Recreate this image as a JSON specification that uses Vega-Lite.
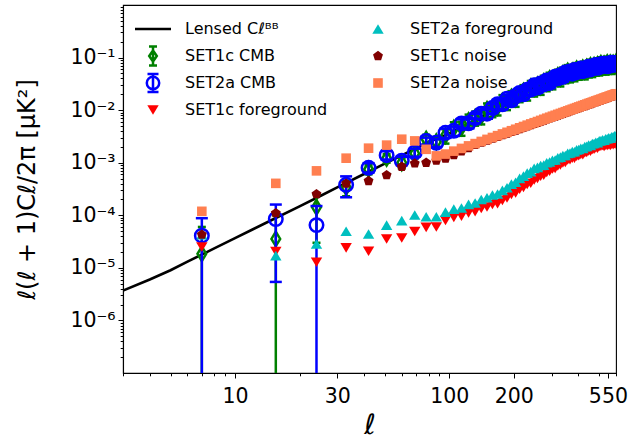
{
"$schema": "https://vega.github.io/schema/vega-lite/v6.json",
"width": 493, "height": 368,
"autosize": "none",
"padding": {"left": 123, "top": 5, "right": 20, "bottom": 66},
"background": "white",
"config": {
  "view": {"stroke": "black", "strokeWidth": 1.1},
  "font": "DejaVu Sans",
  "axis": {"grid": false, "domainColor": "black", "domainWidth": 1.1, "tickColor": "black", "tickWidth": 1, "labelColor": "black", "titleColor": "black", "labelFont": "DejaVu Sans", "titleFont": "DejaVu Sans", "titleFontWeight": "normal", "zindex": 1}
},
"data": {"values": [
{"s":"L","l":3,"v":3.7e-6},{"s":"L","l":4,"v":6.0e-6},{"s":"L","l":5,"v":9.0e-6},{"s":"L","l":6,"v":1.31e-5},{"s":"L","l":7,"v":1.79e-5},{"s":"L","l":8,"v":2.34e-5},{"s":"L","l":10,"v":3.68e-5},{"s":"L","l":12,"v":5.3e-5},{"s":"L","l":15,"v":8.3e-5},{"s":"L","l":20,"v":1.48e-4},{"s":"L","l":25,"v":2.33e-4},{"s":"L","l":30,"v":3.4e-4},{"s":"L","l":40,"v":6.1e-4},{"s":"L","l":50,"v":9.6e-4},{"s":"L","l":60,"v":1.38e-3},{"s":"L","l":70,"v":1.9e-3},{"s":"L","l":80,"v":2.45e-3},{"s":"L","l":90,"v":3.0e-3},{"s":"L","l":100,"v":3.6e-3},{"s":"L","l":120,"v":5.3e-3},{"s":"L","l":150,"v":8.5e-3},{"s":"L","l":177,"v":1.3e-2},{"s":"L","l":200,"v":1.7e-2},{"s":"L","l":250,"v":2.7e-2},{"s":"L","l":300,"v":3.7e-2},{"s":"L","l":357,"v":4.9e-2},{"s":"L","l":420,"v":5.9e-2},{"s":"L","l":510,"v":7.0e-2},{"s":"L","l":600,"v":7.6e-2},
{"s":"c1","l":7,"v":1.85e-5,"lo":1e-9,"hi":6e-5},{"s":"c1","l":15.5,"v":3.55e-5,"lo":1e-9,"hi":1.0e-4},{"s":"c1","l":24,"v":1.42e-4,"lo":3e-5,"hi":2.5e-4},{"s":"c1","l":33,"v":3.4e-4,"lo":2.3e-4,"hi":4.5e-4},{"s":"c1","l":42,"v":7.5e-4,"lo":6.0e-4,"hi":9.0e-4},{"s":"c1","l":51,"v":1.21e-3,"lo":1.0e-3,"hi":1.45e-3},{"s":"c1","l":60,"v":1.0e-3,"lo":7.8e-4,"hi":1.25e-3},{"s":"c1","l":69,"v":1.5e-3,"lo":1.2e-3,"hi":1.8e-3},{"s":"c1","l":78,"v":2.8e-3,"lo":2.3e-3,"hi":3.4e-3},{"s":"c1","l":87,"v":2.5e-3,"lo":2.0e-3,"hi":3.1e-3},
{"s":"c1","l":96,"v":3.30e-3,"lo":2.31e-3,"hi":4.29e-3},{"s":"c1","l":105,"v":4.53e-3,"lo":3.17e-3,"hi":5.89e-3},{"s":"c1","l":114,"v":4.64e-3,"lo":3.25e-3,"hi":6.03e-3},{"s":"c1","l":123,"v":6.32e-3,"lo":4.42e-3,"hi":8.22e-3},{"s":"c1","l":132,"v":7.23e-3,"lo":5.06e-3,"hi":9.40e-3},{"s":"c1","l":141,"v":7.64e-3,"lo":5.35e-3,"hi":9.93e-3},{"s":"c1","l":150,"v":1.031e-2,"lo":7.22e-3,"hi":1.34e-2},{"s":"c1","l":159,"v":1.047e-2,"lo":7.33e-3,"hi":1.361e-2},{"s":"c1","l":168,"v":1.131e-2,"lo":7.92e-3,"hi":1.47e-2},{"s":"c1","l":177,"v":1.487e-2,"lo":1.041e-2,"hi":1.933e-2},{"s":"c1","l":186,"v":1.432e-2,"lo":1.002e-2,"hi":1.862e-2},{"s":"c1","l":195,"v":1.768e-2,"lo":1.238e-2,"hi":2.298e-2},{"s":"c1","l":204,"v":1.650e-2,"lo":1.155e-2,"hi":2.145e-2},{"s":"c1","l":213,"v":2.022e-2,"lo":1.415e-2,"hi":2.629e-2},{"s":"c1","l":222,"v":2.303e-2,"lo":1.612e-2,"hi":2.994e-2},{"s":"c1","l":231,"v":2.174e-2,"lo":1.522e-2,"hi":2.826e-2},{"s":"c1","l":240,"v":2.76e-2,"lo":1.932e-2,"hi":3.588e-2},{"s":"c1","l":249,"v":2.59e-2,"lo":1.813e-2,"hi":3.367e-2},{"s":"c1","l":258,"v":3.02e-2,"lo":2.114e-2,"hi":3.926e-2},{"s":"c1","l":267,"v":2.79e-2,"lo":1.953e-2,"hi":3.627e-2},{"s":"c1","l":276,"v":3.47e-2,"lo":2.429e-2,"hi":4.511e-2},{"s":"c1","l":285,"v":3.27e-2,"lo":2.289e-2,"hi":4.251e-2},{"s":"c1","l":294,"v":3.96e-2,"lo":2.772e-2,"hi":5.148e-2},{"s":"c1","l":303,"v":3.55e-2,"lo":2.485e-2,"hi":4.615e-2},{"s":"c1","l":312,"v":4.10e-2,"lo":2.87e-2,"hi":5.33e-2},{"s":"c1","l":321,"v":4.51e-2,"lo":3.157e-2,"hi":5.863e-2},{"s":"c1","l":330,"v":4.03e-2,"lo":2.821e-2,"hi":5.239e-2},{"s":"c1","l":339,"v":4.96e-2,"lo":3.472e-2,"hi":6.448e-2},{"s":"c1","l":348,"v":4.63e-2,"lo":3.241e-2,"hi":6.019e-2},{"s":"c1","l":357,"v":5.53e-2,"lo":3.871e-2,"hi":7.189e-2},{"s":"c1","l":366,"v":4.82e-2,"lo":3.374e-2,"hi":6.266e-2},{"s":"c1","l":375,"v":5.53e-2,"lo":3.871e-2,"hi":7.189e-2},{"s":"c1","l":384,"v":5.05e-2,"lo":3.535e-2,"hi":6.565e-2},{"s":"c1","l":393,"v":6.06e-2,"lo":4.242e-2,"hi":7.878e-2},{"s":"c1","l":402,"v":5.40e-2,"lo":3.78e-2,"hi":7.02e-2},{"s":"c1","l":411,"v":5.91e-2,"lo":4.137e-2,"hi":7.683e-2},{"s":"c1","l":420,"v":6.32e-2,"lo":4.424e-2,"hi":8.216e-2},{"s":"c1","l":429,"v":5.49e-2,"lo":3.843e-2,"hi":7.137e-2},{"s":"c1","l":438,"v":6.58e-2,"lo":4.606e-2,"hi":8.554e-2},{"s":"c1","l":447,"v":5.98e-2,"lo":4.186e-2,"hi":7.774e-2},{"s":"c1","l":456,"v":7.00e-2,"lo":4.9e-2,"hi":9.1e-2},{"s":"c1","l":465,"v":6.07e-2,"lo":4.249e-2,"hi":7.891e-2},{"s":"c1","l":474,"v":7.10e-2,"lo":4.97e-2,"hi":9.23e-2},{"s":"c1","l":483,"v":6.44e-2,"lo":4.508e-2,"hi":8.372e-2},{"s":"c1","l":492,"v":7.36e-2,"lo":5.152e-2,"hi":9.568e-2},{"s":"c1","l":501,"v":6.52e-2,"lo":4.564e-2,"hi":8.476e-2},{"s":"c1","l":510,"v":7.78e-2,"lo":5.446e-2,"hi":1.011e-1},{"s":"c1","l":519,"v":6.82e-2,"lo":4.774e-2,"hi":8.866e-2},{"s":"c1","l":528,"v":7.53e-2,"lo":5.271e-2,"hi":9.789e-2},{"s":"c1","l":537,"v":6.76e-2,"lo":4.732e-2,"hi":8.788e-2},{"s":"c1","l":546,"v":8.00e-2,"lo":5.6e-2,"hi":1.04e-1},{"s":"c1","l":555,"v":7.01e-2,"lo":4.907e-2,"hi":9.113e-2},{"s":"c1","l":564,"v":7.92e-2,"lo":5.544e-2,"hi":1.03e-1},{"s":"c1","l":573,"v":6.95e-2,"lo":4.865e-2,"hi":9.035e-2},{"s":"c1","l":582,"v":7.85e-2,"lo":5.495e-2,"hi":1.021e-1},{"s":"c1","l":591,"v":7.20e-2,"lo":5.04e-2,"hi":9.36e-2},{"s":"c1","l":600,"v":8.13e-2,"lo":5.691e-2,"hi":1.057e-1},
{"s":"c2","l":7,"v":4.1e-5,"lo":1e-9,"hi":8.8e-5},{"s":"c2","l":15.5,"v":8.5e-5,"lo":5.4e-6,"hi":1.6e-4},{"s":"c2","l":24,"v":6.5e-5,"lo":1e-9,"hi":1.5e-4},{"s":"c2","l":33,"v":3.8e-4,"lo":2.2e-4,"hi":5.5e-4},{"s":"c2","l":42,"v":8.0e-4,"lo":6.5e-4,"hi":9.8e-4},{"s":"c2","l":51,"v":1.39e-3,"lo":1.15e-3,"hi":1.65e-3},{"s":"c2","l":60,"v":1.09e-3,"lo":9.0e-4,"hi":1.3e-3},{"s":"c2","l":69,"v":1.57e-3,"lo":1.3e-3,"hi":1.85e-3},{"s":"c2","l":78,"v":2.6e-3,"lo":2.2e-3,"hi":3.0e-3},{"s":"c2","l":87,"v":2.4e-3,"lo":2.0e-3,"hi":2.8e-3},
{"s":"c2","l":96,"v":3.71e-3,"lo":2.97e-3,"hi":4.45e-3},{"s":"c2","l":105,"v":4.04e-3,"lo":3.23e-3,"hi":4.85e-3},{"s":"c2","l":114,"v":5.58e-3,"lo":4.46e-3,"hi":6.70e-3},{"s":"c2","l":123,"v":5.63e-3,"lo":4.50e-3,"hi":6.76e-3},{"s":"c2","l":132,"v":7.07e-3,"lo":5.66e-3,"hi":8.48e-3},{"s":"c2","l":141,"v":8.58e-3,"lo":6.86e-3,"hi":1.03e-2},{"s":"c2","l":150,"v":8.58e-3,"lo":6.86e-3,"hi":1.03e-2},{"s":"c2","l":159,"v":1.097e-2,"lo":8.78e-3,"hi":1.316e-2},{"s":"c2","l":168,"v":1.299e-2,"lo":1.039e-2,"hi":1.559e-2},{"s":"c2","l":177,"v":1.295e-2,"lo":1.036e-2,"hi":1.554e-2},{"s":"c2","l":186,"v":1.644e-2,"lo":1.315e-2,"hi":1.973e-2},{"s":"c2","l":195,"v":1.541e-2,"lo":1.233e-2,"hi":1.849e-2},{"s":"c2","l":204,"v":1.851e-2,"lo":1.481e-2,"hi":2.221e-2},{"s":"c2","l":213,"v":2.117e-2,"lo":1.694e-2,"hi":2.54e-2},{"s":"c2","l":222,"v":2.006e-2,"lo":1.605e-2,"hi":2.407e-2},{"s":"c2","l":231,"v":2.439e-2,"lo":1.951e-2,"hi":2.927e-2},{"s":"c2","l":240,"v":2.46e-2,"lo":1.968e-2,"hi":2.952e-2},{"s":"c2","l":249,"v":2.97e-2,"lo":2.376e-2,"hi":3.564e-2},{"s":"c2","l":258,"v":2.69e-2,"lo":2.152e-2,"hi":3.228e-2},{"s":"c2","l":267,"v":3.20e-2,"lo":2.56e-2,"hi":3.84e-2},{"s":"c2","l":276,"v":3.09e-2,"lo":2.472e-2,"hi":3.708e-2},{"s":"c2","l":285,"v":3.67e-2,"lo":2.936e-2,"hi":4.404e-2},{"s":"c2","l":294,"v":3.30e-2,"lo":2.64e-2,"hi":3.96e-2},{"s":"c2","l":303,"v":3.90e-2,"lo":3.12e-2,"hi":4.68e-2},{"s":"c2","l":312,"v":4.30e-2,"lo":3.44e-2,"hi":5.16e-2},{"s":"c2","l":321,"v":4.02e-2,"lo":3.216e-2,"hi":4.824e-2},{"s":"c2","l":330,"v":4.63e-2,"lo":3.704e-2,"hi":5.556e-2},{"s":"c2","l":339,"v":4.32e-2,"lo":3.456e-2,"hi":5.184e-2},{"s":"c2","l":348,"v":5.19e-2,"lo":4.152e-2,"hi":6.228e-2},{"s":"c2","l":357,"v":4.93e-2,"lo":3.944e-2,"hi":5.916e-2},{"s":"c2","l":366,"v":5.41e-2,"lo":4.328e-2,"hi":6.492e-2},{"s":"c2","l":375,"v":4.93e-2,"lo":3.944e-2,"hi":5.916e-2},{"s":"c2","l":384,"v":5.79e-2,"lo":4.632e-2,"hi":6.948e-2},{"s":"c2","l":393,"v":5.28e-2,"lo":4.224e-2,"hi":6.336e-2},{"s":"c2","l":402,"v":5.78e-2,"lo":4.624e-2,"hi":6.936e-2},{"s":"c2","l":411,"v":6.18e-2,"lo":4.944e-2,"hi":7.416e-2},{"s":"c2","l":420,"v":5.50e-2,"lo":4.4e-2,"hi":6.6e-2},{"s":"c2","l":429,"v":6.30e-2,"lo":5.04e-2,"hi":7.56e-2},{"s":"c2","l":438,"v":5.86e-2,"lo":4.688e-2,"hi":7.032e-2},{"s":"c2","l":447,"v":6.71e-2,"lo":5.368e-2,"hi":8.052e-2},{"s":"c2","l":456,"v":5.96e-2,"lo":4.768e-2,"hi":7.152e-2},{"s":"c2","l":465,"v":6.81e-2,"lo":5.448e-2,"hi":8.172e-2},{"s":"c2","l":474,"v":6.47e-2,"lo":5.176e-2,"hi":7.764e-2},{"s":"c2","l":483,"v":7.23e-2,"lo":5.784e-2,"hi":8.676e-2},{"s":"c2","l":492,"v":6.41e-2,"lo":5.128e-2,"hi":7.692e-2},{"s":"c2","l":501,"v":7.31e-2,"lo":5.848e-2,"hi":8.772e-2},{"s":"c2","l":510,"v":6.77e-2,"lo":5.416e-2,"hi":8.124e-2},{"s":"c2","l":519,"v":7.65e-2,"lo":6.12e-2,"hi":9.18e-2},{"s":"c2","l":528,"v":7.03e-2,"lo":5.624e-2,"hi":8.436e-2},{"s":"c2","l":537,"v":7.59e-2,"lo":6.072e-2,"hi":9.108e-2},{"s":"c2","l":546,"v":6.81e-2,"lo":5.448e-2,"hi":8.172e-2},{"s":"c2","l":555,"v":7.69e-2,"lo":6.152e-2,"hi":9.228e-2},{"s":"c2","l":564,"v":7.06e-2,"lo":5.648e-2,"hi":8.472e-2},{"s":"c2","l":573,"v":7.98e-2,"lo":6.384e-2,"hi":9.576e-2},{"s":"c2","l":582,"v":7.32e-2,"lo":5.856e-2,"hi":8.784e-2},{"s":"c2","l":591,"v":7.90e-2,"lo":6.32e-2,"hi":9.48e-2},{"s":"c2","l":600,"v":7.41e-2,"lo":5.928e-2,"hi":8.892e-2},
{"s":"f1","l":7,"v":2.5e-5},{"s":"f1","l":15.5,"v":2.04e-5},{"s":"f1","l":24,"v":1.28e-5},{"s":"f1","l":33,"v":2.4e-5},{"s":"f1","l":42,"v":2.07e-5},{"s":"f1","l":51,"v":3.55e-5},{"s":"f1","l":60,"v":3.7e-5},{"s":"f1","l":69,"v":4.9e-5},{"s":"f1","l":78,"v":5.9e-5},{"s":"f1","l":87,"v":6.0e-5},{"s":"f1","l":96,"v":7.98e-5},{"s":"f1","l":105,"v":9.12e-5},{"s":"f1","l":114,"v":9.62e-5},{"s":"f1","l":123,"v":1.109e-4},{"s":"f1","l":132,"v":1.172e-4},{"s":"f1","l":141,"v":1.349e-4},{"s":"f1","l":150,"v":1.44e-4},{"s":"f1","l":159,"v":1.601e-4},{"s":"f1","l":168,"v":1.655e-4},{"s":"f1","l":177,"v":1.92e-4},{"s":"f1","l":186,"v":2.14e-4},{"s":"f1","l":195,"v":2.48e-4},{"s":"f1","l":204,"v":2.66e-4},{"s":"f1","l":213,"v":3.12e-4},{"s":"f1","l":222,"v":3.40e-4},{"s":"f1","l":231,"v":3.86e-4},{"s":"f1","l":240,"v":4.08e-4},{"s":"f1","l":249,"v":4.70e-4},{"s":"f1","l":258,"v":5.01e-4},{"s":"f1","l":267,"v":5.57e-4},{"s":"f1","l":276,"v":5.77e-4},{"s":"f1","l":285,"v":6.53e-4},{"s":"f1","l":294,"v":6.88e-4},{"s":"f1","l":303,"v":7.58e-4},{"s":"f1","l":312,"v":7.77e-4},{"s":"f1","l":321,"v":8.72e-4},{"s":"f1","l":330,"v":9.11e-4},{"s":"f1","l":339,"v":9.95e-4},{"s":"f1","l":348,"v":1.013e-3},{"s":"f1","l":357,"v":1.124e-3},{"s":"f1","l":366,"v":1.147e-3},{"s":"f1","l":375,"v":1.225e-3},{"s":"f1","l":384,"v":1.22e-3},{"s":"f1","l":393,"v":1.33e-3},{"s":"f1","l":402,"v":1.353e-3},{"s":"f1","l":411,"v":1.439e-3},{"s":"f1","l":420,"v":1.427e-3},{"s":"f1","l":429,"v":1.552e-3},{"s":"f1","l":438,"v":1.573e-3},{"s":"f1","l":447,"v":1.668e-3},{"s":"f1","l":456,"v":1.650e-3},{"s":"f1","l":465,"v":1.788e-3},{"s":"f1","l":474,"v":1.806e-3},{"s":"f1","l":483,"v":1.910e-3},{"s":"f1","l":492,"v":1.885e-3},{"s":"f1","l":501,"v":2.04e-3},{"s":"f1","l":510,"v":2.05e-3},{"s":"f1","l":519,"v":2.12e-3},{"s":"f1","l":528,"v":2.04e-3},{"s":"f1","l":537,"v":2.16e-3},{"s":"f1","l":546,"v":2.13e-3},{"s":"f1","l":555,"v":2.20e-3},{"s":"f1","l":564,"v":2.13e-3},{"s":"f1","l":573,"v":2.25e-3},{"s":"f1","l":582,"v":2.21e-3},{"s":"f1","l":591,"v":2.29e-3},{"s":"f1","l":600,"v":2.25e-3},
{"s":"f2","l":7,"v":4.28e-5},{"s":"f2","l":15.5,"v":1.71e-5},{"s":"f2","l":24,"v":2.85e-5},{"s":"f2","l":33,"v":4.97e-5},{"s":"f2","l":42,"v":4.4e-5},{"s":"f2","l":51,"v":6.5e-5},{"s":"f2","l":60,"v":7.9e-5},{"s":"f2","l":69,"v":1.01e-4},{"s":"f2","l":78,"v":9.4e-5},{"s":"f2","l":87,"v":9.4e-5},{"s":"f2","l":96,"v":1.146e-4},{"s":"f2","l":105,"v":1.309e-4},{"s":"f2","l":114,"v":1.38e-4},{"s":"f2","l":123,"v":1.615e-4},{"s":"f2","l":132,"v":1.713e-4},{"s":"f2","l":141,"v":1.998e-4},{"s":"f2","l":150,"v":2.16e-4},{"s":"f2","l":159,"v":2.43e-4},{"s":"f2","l":168,"v":2.54e-4},{"s":"f2","l":177,"v":2.98e-4},{"s":"f2","l":186,"v":3.35e-4},{"s":"f2","l":195,"v":3.92e-4},{"s":"f2","l":204,"v":4.26e-4},{"s":"f2","l":213,"v":5.04e-4},{"s":"f2","l":222,"v":5.55e-4},{"s":"f2","l":231,"v":6.35e-4},{"s":"f2","l":240,"v":6.76e-4},{"s":"f2","l":249,"v":7.82e-4},{"s":"f2","l":258,"v":8.15e-4},{"s":"f2","l":267,"v":8.88e-4},{"s":"f2","l":276,"v":9.00e-4},{"s":"f2","l":285,"v":9.99e-4},{"s":"f2","l":294,"v":1.033e-3},{"s":"f2","l":303,"v":1.117e-3},{"s":"f2","l":312,"v":1.126e-3},{"s":"f2","l":321,"v":1.241e-3},{"s":"f2","l":330,"v":1.275e-3},{"s":"f2","l":339,"v":1.371e-3},{"s":"f2","l":348,"v":1.373e-3},{"s":"f2","l":357,"v":1.504e-3},{"s":"f2","l":366,"v":1.530e-3},{"s":"f2","l":375,"v":1.628e-3},{"s":"f2","l":384,"v":1.616e-3},{"s":"f2","l":393,"v":1.757e-3},{"s":"f2","l":402,"v":1.780e-3},{"s":"f2","l":411,"v":1.888e-3},{"s":"f2","l":420,"v":1.867e-3},{"s":"f2","l":429,"v":2.024e-3},{"s":"f2","l":438,"v":2.046e-3},{"s":"f2","l":447,"v":2.163e-3},{"s":"f2","l":456,"v":2.133e-3},{"s":"f2","l":465,"v":2.306e-3},{"s":"f2","l":474,"v":2.324e-3},{"s":"f2","l":483,"v":2.45e-3},{"s":"f2","l":492,"v":2.41e-3},{"s":"f2","l":501,"v":2.60e-3},{"s":"f2","l":510,"v":2.61e-3},{"s":"f2","l":519,"v":2.74e-3},{"s":"f2","l":528,"v":2.67e-3},{"s":"f2","l":537,"v":2.86e-3},{"s":"f2","l":546,"v":2.86e-3},{"s":"f2","l":555,"v":2.99e-3},{"s":"f2","l":564,"v":2.92e-3},{"s":"f2","l":573,"v":3.12e-3},{"s":"f2","l":582,"v":3.11e-3},{"s":"f2","l":591,"v":3.25e-3},{"s":"f2","l":600,"v":3.24e-3},
{"s":"n1","l":7,"v":4.28e-5},{"s":"n1","l":15.5,"v":1.1e-4},{"s":"n1","l":24,"v":2.53e-4},{"s":"n1","l":33,"v":4.0e-4},{"s":"n1","l":42,"v":4.5e-4},{"s":"n1","l":51,"v":5.8e-4},{"s":"n1","l":60,"v":8.4e-4},{"s":"n1","l":69,"v":9.7e-4},{"s":"n1","l":78,"v":1.0e-3},{"s":"n1","l":87,"v":1.1e-3},{"s":"n1","l":96,"v":1.2e-3},{"s":"n1","l":105,"v":1.4e-3},{"s":"n1","l":114,"v":1.65e-3},{"s":"n1","l":123,"v":1.9e-3},{"s":"n1","l":132,"v":2.19e-3},{"s":"n1","l":141,"v":2.41e-3},{"s":"n1","l":150,"v":2.64e-3},{"s":"n1","l":159,"v":2.87e-3},{"s":"n1","l":168,"v":3.11e-3},{"s":"n1","l":177,"v":3.35e-3},{"s":"n1","l":186,"v":3.60e-3},{"s":"n1","l":195,"v":3.86e-3},{"s":"n1","l":204,"v":4.11e-3},{"s":"n1","l":213,"v":4.38e-3},{"s":"n1","l":222,"v":4.65e-3},{"s":"n1","l":231,"v":4.92e-3},{"s":"n1","l":240,"v":5.20e-3},{"s":"n1","l":249,"v":5.48e-3},{"s":"n1","l":258,"v":5.77e-3},{"s":"n1","l":267,"v":6.06e-3},{"s":"n1","l":276,"v":6.37e-3},{"s":"n1","l":285,"v":6.67e-3},{"s":"n1","l":294,"v":6.96e-3},{"s":"n1","l":303,"v":7.28e-3},{"s":"n1","l":312,"v":7.59e-3},{"s":"n1","l":321,"v":7.90e-3},{"s":"n1","l":330,"v":8.23e-3},{"s":"n1","l":339,"v":8.55e-3},{"s":"n1","l":348,"v":8.88e-3},{"s":"n1","l":357,"v":9.22e-3},{"s":"n1","l":366,"v":9.56e-3},{"s":"n1","l":375,"v":9.90e-3},{"s":"n1","l":384,"v":1.024e-2},{"s":"n1","l":393,"v":1.059e-2},{"s":"n1","l":402,"v":1.094e-2},{"s":"n1","l":411,"v":1.13e-2},{"s":"n1","l":420,"v":1.166e-2},{"s":"n1","l":429,"v":1.202e-2},{"s":"n1","l":438,"v":1.238e-2},{"s":"n1","l":447,"v":1.275e-2},{"s":"n1","l":456,"v":1.312e-2},{"s":"n1","l":465,"v":1.349e-2},{"s":"n1","l":474,"v":1.387e-2},{"s":"n1","l":483,"v":1.425e-2},{"s":"n1","l":492,"v":1.463e-2},{"s":"n1","l":501,"v":1.501e-2},{"s":"n1","l":510,"v":1.539e-2},{"s":"n1","l":519,"v":1.577e-2},{"s":"n1","l":528,"v":1.625e-2},{"s":"n1","l":537,"v":1.663e-2},{"s":"n1","l":546,"v":1.70e-2},{"s":"n1","l":555,"v":1.739e-2},{"s":"n1","l":564,"v":1.786e-2},{"s":"n1","l":573,"v":1.824e-2},{"s":"n1","l":582,"v":1.862e-2},{"s":"n1","l":591,"v":1.91e-2},{"s":"n1","l":600,"v":1.948e-2},
{"s":"n2","l":7,"v":1.19e-4},{"s":"n2","l":15.5,"v":4.05e-4},{"s":"n2","l":24,"v":7.0e-4},{"s":"n2","l":33,"v":1.22e-3},{"s":"n2","l":42,"v":1.89e-3},{"s":"n2","l":51,"v":2.16e-3},{"s":"n2","l":60,"v":2.8e-3},{"s":"n2","l":69,"v":2.6e-3},{"s":"n2","l":78,"v":1.8e-3},{"s":"n2","l":87,"v":1.35e-3},{"s":"n2","l":96,"v":1.46e-3},{"s":"n2","l":105,"v":1.66e-3},{"s":"n2","l":114,"v":1.87e-3},{"s":"n2","l":123,"v":2.09e-3},{"s":"n2","l":132,"v":2.31e-3},{"s":"n2","l":141,"v":2.54e-3},{"s":"n2","l":150,"v":2.78e-3},{"s":"n2","l":159,"v":3.02e-3},{"s":"n2","l":168,"v":3.27e-3},{"s":"n2","l":177,"v":3.53e-3},{"s":"n2","l":186,"v":3.79e-3},{"s":"n2","l":195,"v":4.06e-3},{"s":"n2","l":204,"v":4.33e-3},{"s":"n2","l":213,"v":4.61e-3},{"s":"n2","l":222,"v":4.89e-3},{"s":"n2","l":231,"v":5.18e-3},{"s":"n2","l":240,"v":5.47e-3},{"s":"n2","l":249,"v":5.77e-3},{"s":"n2","l":258,"v":6.07e-3},{"s":"n2","l":267,"v":6.38e-3},{"s":"n2","l":276,"v":6.70e-3},{"s":"n2","l":285,"v":7.02e-3},{"s":"n2","l":294,"v":7.33e-3},{"s":"n2","l":303,"v":7.66e-3},{"s":"n2","l":312,"v":7.99e-3},{"s":"n2","l":321,"v":8.32e-3},{"s":"n2","l":330,"v":8.66e-3},{"s":"n2","l":339,"v":9.00e-3},{"s":"n2","l":348,"v":9.35e-3},{"s":"n2","l":357,"v":9.70e-3},{"s":"n2","l":366,"v":1.006e-2},{"s":"n2","l":375,"v":1.042e-2},{"s":"n2","l":384,"v":1.078e-2},{"s":"n2","l":393,"v":1.115e-2},{"s":"n2","l":402,"v":1.152e-2},{"s":"n2","l":411,"v":1.189e-2},{"s":"n2","l":420,"v":1.227e-2},{"s":"n2","l":429,"v":1.265e-2},{"s":"n2","l":438,"v":1.303e-2},{"s":"n2","l":447,"v":1.342e-2},{"s":"n2","l":456,"v":1.381e-2},{"s":"n2","l":465,"v":1.42e-2},{"s":"n2","l":474,"v":1.46e-2},{"s":"n2","l":483,"v":1.50e-2},{"s":"n2","l":492,"v":1.54e-2},{"s":"n2","l":501,"v":1.58e-2},{"s":"n2","l":510,"v":1.62e-2},{"s":"n2","l":519,"v":1.66e-2},{"s":"n2","l":528,"v":1.71e-2},{"s":"n2","l":537,"v":1.75e-2},{"s":"n2","l":546,"v":1.79e-2},{"s":"n2","l":555,"v":1.83e-2},{"s":"n2","l":564,"v":1.88e-2},{"s":"n2","l":573,"v":1.92e-2},{"s":"n2","l":582,"v":1.96e-2},{"s":"n2","l":591,"v":2.01e-2},{"s":"n2","l":600,"v":2.05e-2}
]},
"encoding": {
  "x": {"field": "l", "type": "quantitative",
    "scale": {"type": "log", "domain": [3, 600], "nice": false},
    "axis": {"title": "ℓ", "titleFontSize": 28, "titleFontStyle": "italic", "titleY": 38, "titleBaseline": "top",
      "values": [3,4,5,6,7,8,9,10,20,30,40,50,60,70,80,90,100,200,300,400,500,550,600],
      "labelExpr": "(datum.value == 10 || datum.value == 30 || datum.value == 100 || datum.value == 200 || datum.value == 550) ? '' + datum.value : ''",
      "labelFontSize": 20.5, "labelPadding": 8, "labelOverlap": false, "labelFlush": false, "labelBound": false,
      "tickSize": {"condition": {"test": "datum.value == 10 || datum.value == 30 || datum.value == 100 || datum.value == 200 || datum.value == 550", "value": 5}, "value": 2.8}}},
  "y": {"field": "v", "type": "quantitative",
    "scale": {"type": "log", "domain": [1e-7, 1], "nice": false},
    "axis": {"title": "ℓ(ℓ + 1)Cℓ/2π  [μK²]", "titleFontSize": 24, "titleX": -96, "titleBaseline": "middle",
      "values": [2e-7,3e-7,4e-7,5e-7,6e-7,7e-7,8e-7,9e-7,1e-6,2e-6,3e-6,4e-6,5e-6,6e-6,7e-6,8e-6,9e-6,1e-5,2e-5,3e-5,4e-5,5e-5,6e-5,7e-5,8e-5,9e-5,1e-4,2e-4,3e-4,4e-4,5e-4,6e-4,7e-4,8e-4,9e-4,1e-3,2e-3,3e-3,4e-3,5e-3,6e-3,7e-3,8e-3,9e-3,1e-2,2e-2,3e-2,4e-2,5e-2,6e-2,7e-2,8e-2,9e-2,1e-1,2e-1,3e-1,4e-1,5e-1,6e-1,7e-1,8e-1,9e-1],
      "labelExpr": "datum.value == 1e-1 ? '10⁻¹' : datum.value == 1e-2 ? '10⁻²' : datum.value == 1e-3 ? '10⁻³' : datum.value == 1e-4 ? '10⁻⁴' : datum.value == 1e-5 ? '10⁻⁵' : datum.value == 1e-6 ? '10⁻⁶' : ''",
      "labelFontSize": 20.5, "labelPadding": 3, "labelOverlap": false, "labelFlush": false, "labelBound": false,
      "tickSize": {"condition": {"test": "datum.value == 1e-1 || datum.value == 1e-2 || datum.value == 1e-3 || datum.value == 1e-4 || datum.value == 1e-5 || datum.value == 1e-6", "value": 5}, "value": 2.8}}}
},
"layer": [
  {"transform": [{"filter": "datum.s == 'L'"}], "mark": {"type": "line", "color": "black", "strokeWidth": 2.6, "clip": true}, "encoding": {}},
  {"transform": [{"filter": "datum.s == 'c1'"}], "mark": {"type": "rule", "color": "#008000", "strokeWidth": 2.5, "clip": true},
   "encoding": {"y": {"field": "lo", "type": "quantitative"}, "y2": {"field": "hi"}}},
  {"transform": [{"filter": "datum.s == 'c1'"}], "mark": {"type": "tick", "orient": "horizontal", "color": "#008000", "size": 8, "thickness": 2.5, "opacity": 1, "clip": true},
   "encoding": {"y": {"field": "lo", "type": "quantitative"}}},
  {"transform": [{"filter": "datum.s == 'c1'"}], "mark": {"type": "tick", "orient": "horizontal", "color": "#008000", "size": 8, "thickness": 2.5, "opacity": 1, "clip": true},
   "encoding": {"y": {"field": "hi", "type": "quantitative"}}},
  {"transform": [{"filter": "datum.s == 'c1'"}], "mark": {"type": "point", "shape": "M0,-1L0.6,0L0,1L-0.6,0Z", "size": 210, "color": "#008000", "strokeWidth": 2.5, "filled": false, "opacity": 1, "clip": true}, "encoding": {}},
  {"transform": [{"filter": "datum.s == 'c2'"}], "mark": {"type": "rule", "color": "#0000ff", "strokeWidth": 2.5, "clip": true},
   "encoding": {"y": {"field": "lo", "type": "quantitative"}, "y2": {"field": "hi"}}},
  {"transform": [{"filter": "datum.s == 'c2'"}], "mark": {"type": "tick", "orient": "horizontal", "color": "#0000ff", "size": 12, "thickness": 2.5, "opacity": 1, "clip": true},
   "encoding": {"y": {"field": "lo", "type": "quantitative"}}},
  {"transform": [{"filter": "datum.s == 'c2'"}], "mark": {"type": "tick", "orient": "horizontal", "color": "#0000ff", "size": 12, "thickness": 2.5, "opacity": 1, "clip": true},
   "encoding": {"y": {"field": "hi", "type": "quantitative"}}},
  {"transform": [{"filter": "datum.s == 'c2'"}], "mark": {"type": "point", "shape": "circle", "size": 182, "color": "#0000ff", "strokeWidth": 2.5, "filled": false, "opacity": 1, "clip": true}, "encoding": {}},
  {"transform": [{"filter": "datum.s == 'f1' || datum.s == 'f2' || datum.s == 'n1' || datum.s == 'n2'"}],
   "mark": {"type": "point", "size": 400, "strokeWidth": 2.5, "opacity": 1, "clip": true},
   "encoding": {
     "fill": {"field": "s", "type": "nominal",
       "scale": {"domain": ["L","c1","c2","f1","f2","n1","n2"], "range": ["transparent","transparent","transparent","#ff0000","#00bfbf","#800000","#ff7f50"]},
       "legend": {"title": null, "orient": "none", "legendX": 18.5, "legendY": 12.5, "columns": 2, "symbolSize": 400, "symbolStrokeWidth": 2.5, "labelFontSize": 16, "labelFont": "DejaVu Sans", "labelColor": "black", "labelOffset": 20.5, "rowPadding": -2, "columnPadding": 39, "labelLimit": 300, "padding": 0,
         "labelExpr": "datum.value == 'L' ? 'Lensed Cℓᴮᴮ' : datum.value == 'c1' ? 'SET1c CMB' : datum.value == 'c2' ? 'SET2a CMB' : datum.value == 'f1' ? 'SET1c foreground' : datum.value == 'f2' ? 'SET2a foreground' : datum.value == 'n1' ? 'SET1c noise' : 'SET2a noise'"}},
     "stroke": {"field": "s", "type": "nominal",
       "scale": {"domain": ["L","c1","c2","f1","f2","n1","n2"], "range": ["#000000","#008000","#0000ff","transparent","transparent","transparent","transparent"]},
       "legend": {"title": null, "orient": "none", "legendX": 18.5, "legendY": 12.5, "columns": 2, "symbolSize": 400, "symbolStrokeWidth": 2.5, "labelFontSize": 16, "labelFont": "DejaVu Sans", "labelColor": "black", "labelOffset": 20.5, "rowPadding": -2, "columnPadding": 39, "labelLimit": 300, "padding": 0,
         "labelExpr": "datum.value == 'L' ? 'Lensed Cℓᴮᴮ' : datum.value == 'c1' ? 'SET1c CMB' : datum.value == 'c2' ? 'SET2a CMB' : datum.value == 'f1' ? 'SET1c foreground' : datum.value == 'f2' ? 'SET2a foreground' : datum.value == 'n1' ? 'SET1c noise' : 'SET2a noise'"}},
     "shape": {"field": "s", "type": "nominal",
       "scale": {"domain": ["L","c1","c2","f1","f2","n1","n2"], "range": [
         "M0,-0.95M0,0.95M-1.8,0H1.8",
         "M0,-0.95V0.95M-0.4,-0.95H0.4M-0.4,0.95H0.4M0,-0.55L0.38,0L0,0.55L-0.38,0Z",
         "M0,-0.95M0,0.95M0,-0.9V0.9M-0.55,-0.9H0.55M-0.55,0.9H0.55M0.62,0A0.62,0.62,0,1,1,-0.62,0A0.62,0.62,0,1,1,0.62,0Z",
         "M0,-0.95M0,0.95M0,0.48L0.57,-0.48L-0.57,-0.48Z",
         "M0,-0.95M0,0.95M0,-0.48L0.57,0.48L-0.57,0.48Z",
         "M0,-0.95M0,0.95M0,-0.52L0.495,-0.16L0.306,0.42L-0.306,0.42L-0.495,-0.16Z",
         "M0,-0.95M0,0.95M-0.48,-0.48H0.48V0.48H-0.48Z"]},
       "legend": {"title": null, "orient": "none", "legendX": 18.5, "legendY": 12.5, "columns": 2, "symbolSize": 400, "symbolStrokeWidth": 2.5, "labelFontSize": 16, "labelFont": "DejaVu Sans", "labelColor": "black", "labelOffset": 20.5, "rowPadding": -2, "columnPadding": 39, "labelLimit": 300, "padding": 0,
         "labelExpr": "datum.value == 'L' ? 'Lensed Cℓᴮᴮ' : datum.value == 'c1' ? 'SET1c CMB' : datum.value == 'c2' ? 'SET2a CMB' : datum.value == 'f1' ? 'SET1c foreground' : datum.value == 'f2' ? 'SET2a foreground' : datum.value == 'n1' ? 'SET1c noise' : 'SET2a noise'"}}
   }}
]
}
